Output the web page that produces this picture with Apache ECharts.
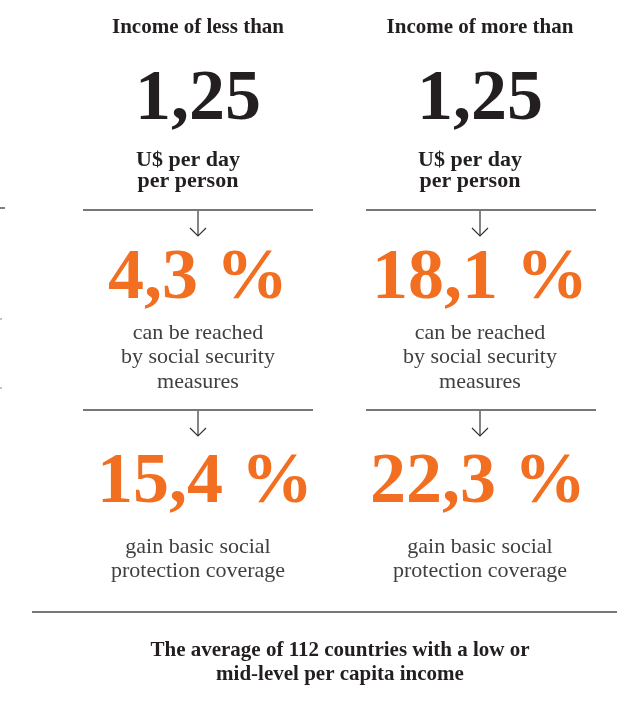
<!DOCTYPE html>
<html>
<head>
<meta charset="utf-8">
<script src="https://cdn.jsdelivr.net/npm/echarts@6/dist/echarts.min.js"></script>
<style>
html,body{margin:0;padding:0;background:#fff;}
#chart{width:617px;height:726px;}
</style>
</head>
<body>
<div id="chart"></div>
<script>
// ---- data ----
var groupHeaders = ['Income of less than', 'Income of more than'];
var incomeThreshold = ['1,25', '1,25'];
var incomeUnit = ['U$ per day', 'per person'];
var reachedPct = [4.3, 18.1];
var reachedLabel = ['can be reached', 'by social security', 'measures'];
var coveragePct = [15.4, 22.3];
var coverageLabel = ['gain basic social', 'protection coverage'];
var footnote = ['The average of 112 countries with a low or', 'mid-level per capita income'];

// ---- layout ----
var chart = echarts.init(document.getElementById('chart'));
var SERIF = '"Liberation Serif", "DejaVu Serif", serif';
var DARK = '#231f20';
var BODY = '#404040';
var ORANGE = '#f26f21';
var LINE = '#4a4a4a';
var colCenters = [198, 480];
var numCenters2 = [205, 478];
var lineSpans = [[83, 313], [366, 596]];

function fmtPct(v) { return v.toFixed(1).replace('.', ',') + ' %'; }

// baseline is the desired text baseline
function text(x, baseline, str, size, weight, color, align) {
  return {
    type: 'text', x: x, y: baseline - 0.82 * size, silent: true,
    style: {
      text: str, font: weight + ' ' + size + 'px ' + SERIF,
      fill: color, align: align || 'center', verticalAlign: 'top'
    }
  };
}
function hline(x1, x2, y, w, c) {
  return { type: 'line', silent: true, shape: { x1: x1, y1: y, x2: x2, y2: y },
    style: { stroke: c || LINE, lineWidth: w || 1.3 } };
}
function arrow(x, y0, y1) {
  return [
    { type: 'line', silent: true, shape: { x1: x, y1: y0, x2: x, y2: y1 }, style: { stroke: '#333', lineWidth: 1.2 } },
    { type: 'polyline', silent: true, shape: { points: [[x - 8, y1 - 8], [x, y1], [x + 8, y1 - 8]] }, style: { stroke: '#333', lineWidth: 1.2, fill: null } }
  ];
}

var g = [];
for (var i = 0; i < 2; i++) {
  var cx = colCenters[i];
  g.push(text(cx, 34, groupHeaders[i], 21, 'bold', DARK));
  g.push(text(cx, 123, incomeThreshold[i], 72, 'bold', DARK));
  g.push(text(cx - 10, 167, incomeUnit[0], 22, 'bold', DARK));
  g.push(text(cx - 10, 188, incomeUnit[1], 22, 'bold', DARK));
  g.push(hline(lineSpans[i][0], lineSpans[i][1], 210));
  g = g.concat(arrow(cx, 211, 236));
  g.push(text(cx, 302, fmtPct(reachedPct[i]), 72, 'bold', ORANGE));
  for (var k = 0; k < reachedLabel.length; k++) {
    g.push(text(cx, 340 + k * 24.5, reachedLabel[k], 22, 'normal', BODY));
  }
  g.push(hline(lineSpans[i][0], lineSpans[i][1], 410));
  g = g.concat(arrow(cx, 411, 436));
  g.push(text(numCenters2[i], 506, fmtPct(coveragePct[i]), 72, 'bold', ORANGE));
  for (var m = 0; m < coverageLabel.length; m++) {
    g.push(text(cx, 554 + m * 24, coverageLabel[m], 22, 'normal', BODY));
  }
}
g.push(hline(32, 617, 612, 1.4));
g.push(text(340, 657, footnote[0], 21, 'bold', DARK));
g.push(text(340, 681, footnote[1], 21, 'bold', DARK));
// small edge ticks
g.push(hline(0, 5, 208, 1.5, '#555'));
g.push(hline(0, 2, 319, 1, '#888'));
g.push(hline(0, 2, 388, 1, '#888'));

chart.setOption({ backgroundColor: '#fff', animation: false, graphic: { elements: g } });
</script>
</body>
</html>
